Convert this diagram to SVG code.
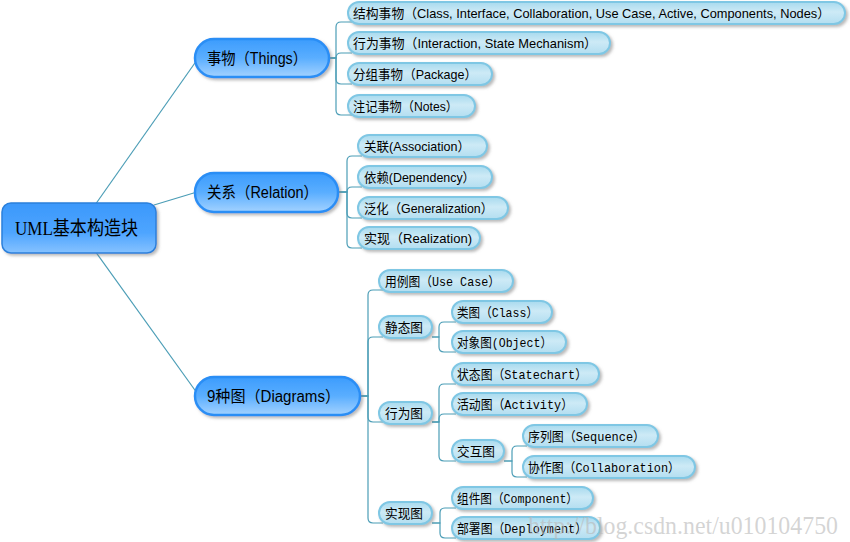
<svg xmlns="http://www.w3.org/2000/svg" width="850" height="542" viewBox="0 0 850 542">
<defs>
<linearGradient id="gRoot" x1="0" y1="0" x2="0" y2="1">
<stop offset="0" stop-color="#3b98fb"/>
<stop offset="0.6" stop-color="#4ea5ff"/>
<stop offset="1" stop-color="#86c2ff"/>
</linearGradient>
<linearGradient id="gL1" x1="0" y1="0" x2="0" y2="1">
<stop offset="0" stop-color="#3c9cfd"/>
<stop offset="0.5" stop-color="#5aaeff"/>
<stop offset="1" stop-color="#a3d2ff"/>
</linearGradient>
<linearGradient id="gL2" x1="0" y1="0" x2="0" y2="1">
<stop offset="0" stop-color="#a8daee"/>
<stop offset="0.45" stop-color="#cdeaf6"/>
<stop offset="1" stop-color="#b3def0"/>
</linearGradient>
<filter id="sh" x="-10%" y="-30%" width="125%" height="170%">
<feGaussianBlur in="SourceAlpha" stdDeviation="1.4"/>
<feOffset dx="2" dy="2" result="b"/>
<feFlood flood-color="#808080" flood-opacity="0.55"/>
<feComposite in2="b" operator="in"/>
<feMerge><feMergeNode/><feMergeNode in="SourceGraphic"/></feMerge>
</filter>
</defs>
<style>
.root{fill:url(#gRoot);stroke:#2a80dc;stroke-width:1.5;filter:url(#sh)}
.l1{fill:url(#gL1);stroke:#2b8ef5;stroke-width:2.5;filter:url(#sh)}
.l2{fill:url(#gL2);stroke:#7fc7e4;stroke-width:2;filter:url(#sh)}
.c{fill:none;stroke:#4b9db6;stroke-width:1.2}
text{fill:#000}
.tr{font-family:"Liberation Serif","Noto Sans CJK SC",serif;font-size:19px}
.t1{font-family:"Liberation Sans","Noto Sans CJK SC",sans-serif;font-size:16px}
.ts{font-family:"Liberation Sans","Noto Sans CJK SC",sans-serif;font-size:13px}
.tm{font-family:"Liberation Mono","Noto Sans CJK SC",monospace;font-size:13px}
.wm{font-family:"Liberation Serif","Noto Sans CJK SC",serif;font-size:26px;fill:#b8b8b8;fill-opacity:0.6}
</style>

<g id="connectors">
<path class="c" d="M95,205 L197,60"/>
<path class="c" d="M154,205 L197,192"/>
<path class="c" d="M95,251 L197,393"/>
<!-- Things -->
<path class="c" d="M329,58 H336 V27 Q336,22 341,22 H352"/>
<path class="c" d="M329,58 H336 V58 Q336,53 341,53 H352"/>
<path class="c" d="M329,58 H336 V79 Q336,84 341,84 H352"/>
<path class="c" d="M329,58 H336 V110 Q336,115 341,115 H352"/>
<!-- Relation -->
<path class="c" d="M338,192 H347 V161 Q347,156 352,156 H362"/>
<path class="c" d="M338,192 H347 V192 Q347,187 352,187 H362"/>
<path class="c" d="M338,192 H347 V213 Q347,218 352,218 H362"/>
<path class="c" d="M338,192 H347 V243 Q347,248 352,248 H362"/>
<!-- Diagrams -->
<path class="c" d="M360,396 H368 V295 Q368,290 373,290 H383"/>
<path class="c" d="M360,396 H368 V342 Q368,337 373,337 H383"/>
<path class="c" d="M360,396 H368 V417 Q368,422 373,422 H383"/>
<path class="c" d="M360,396 H368 V518 Q368,523 373,523 H383"/>
<!-- static -->
<path class="c" d="M432,337 H439 V327 Q439,322 444,322 H456"/>
<path class="c" d="M432,337 H439 V347 Q439,352 444,352 H456"/>
<!-- behavior -->
<path class="c" d="M432,422 H439 V389 Q439,384 444,384 H456"/>
<path class="c" d="M432,422 H439 V419 Q439,414 444,414 H456"/>
<path class="c" d="M432,422 H439 V456 Q439,461 444,461 H456"/>
<!-- interaction -->
<path class="c" d="M504,461 H512 V451 Q512,446 517,446 H527"/>
<path class="c" d="M504,461 H512 V472 Q512,477 517,477 H527"/>
<!-- realization -->
<path class="c" d="M432,523 H440 V513 Q440,508 445,508 H456"/>
<path class="c" d="M432,523 H440 V533 Q440,538 445,538 H456"/>
</g>

<g id="root">
<rect class="root" x="2" y="203" width="154" height="50" rx="9"/>
<text class="tr" x="15" y="235" textLength="123" lengthAdjust="spacingAndGlyphs">UML基本构造块</text>
</g>

<g id="things">
<rect class="l1" x="195" y="39" width="134" height="38" rx="19"/>
<text class="t1" x="207" y="64" textLength="100" lengthAdjust="spacingAndGlyphs">事物（Things）</text>
</g>
<g id="relation">
<rect class="l1" x="195" y="173" width="143" height="39" rx="19"/>
<text class="t1" x="207" y="198" textLength="111" lengthAdjust="spacingAndGlyphs">关系（Relation）</text>
</g>
<g id="diagrams">
<rect class="l1" x="195" y="377" width="165" height="38" rx="19"/>
<text class="t1" x="207" y="402" textLength="133" lengthAdjust="spacingAndGlyphs">9种图（Diagrams）</text>
</g>

<g id="structural">
<rect class="l2" x="348" y="2" width="497" height="22" rx="11"/>
<text class="ts" x="353" y="18" textLength="477" lengthAdjust="spacingAndGlyphs">结构事物（Class, Interface, Collaboration, Use Case, Active, Components, Nodes）</text>
</g>
<g id="behavioral">
<rect class="l2" x="348" y="32" width="262" height="22" rx="11"/>
<text class="ts" x="353" y="48" textLength="244" lengthAdjust="spacingAndGlyphs">行为事物（Interaction, State Mechanism）</text>
</g>
<g id="grouping">
<rect class="l2" x="348" y="63" width="144" height="22" rx="11"/>
<text class="ts" x="353" y="79" textLength="124" lengthAdjust="spacingAndGlyphs">分组事物（Package）</text>
</g>
<g id="annotational">
<rect class="l2" x="348" y="95" width="127" height="22" rx="11"/>
<text class="ts" x="353" y="111" textLength="105" lengthAdjust="spacingAndGlyphs">注记事物（Notes）</text>
</g>

<g id="association">
<rect class="l2" x="358" y="135" width="129" height="22" rx="11"/>
<text class="ts" x="364" y="151" textLength="106" lengthAdjust="spacingAndGlyphs">关联(Association）</text>
</g>
<g id="dependency">
<rect class="l2" x="358" y="166" width="134" height="22" rx="11"/>
<text class="ts" x="364" y="182" textLength="111" lengthAdjust="spacingAndGlyphs">依赖(Dependency）</text>
</g>
<g id="generalization">
<rect class="l2" x="358" y="197" width="150" height="22" rx="11"/>
<text class="ts" x="364" y="213" textLength="129" lengthAdjust="spacingAndGlyphs">泛化（Generalization）</text>
</g>
<g id="realization">
<rect class="l2" x="358" y="227" width="122" height="22" rx="11"/>
<text class="ts" x="364" y="243" textLength="108" lengthAdjust="spacingAndGlyphs">实现（Realization)</text>
</g>

<g id="usecase">
<rect class="l2" x="379" y="270" width="134" height="22" rx="11"/>
<text class="tm" x="385" y="286" textLength="115" lengthAdjust="spacingAndGlyphs">用例图（Use Case）</text>
</g>
<g id="static">
<rect class="l2" x="379" y="316" width="53" height="22" rx="11"/>
<text class="tm" x="385" y="332" textLength="38" lengthAdjust="spacingAndGlyphs">静态图</text>
</g>
<g id="class">
<rect class="l2" x="452" y="301" width="100" height="22" rx="11"/>
<text class="tm" x="457" y="317" textLength="81" lengthAdjust="spacingAndGlyphs">类图（Class）</text>
</g>
<g id="object">
<rect class="l2" x="452" y="331" width="114" height="22" rx="11"/>
<text class="tm" x="457" y="347" textLength="95" lengthAdjust="spacingAndGlyphs">对象图(Object）</text>
</g>
<g id="behavior">
<rect class="l2" x="379" y="402" width="53" height="22" rx="11"/>
<text class="tm" x="385" y="418" textLength="38" lengthAdjust="spacingAndGlyphs">行为图</text>
</g>
<g id="statechart">
<rect class="l2" x="452" y="363" width="147" height="22" rx="11"/>
<text class="tm" x="457" y="379" textLength="130" lengthAdjust="spacingAndGlyphs">状态图（Statechart）</text>
</g>
<g id="activity">
<rect class="l2" x="452" y="393" width="135" height="22" rx="11"/>
<text class="tm" x="457" y="409" textLength="116" lengthAdjust="spacingAndGlyphs">活动图（Activity）</text>
</g>
<g id="interaction">
<rect class="l2" x="452" y="440" width="52" height="22" rx="11"/>
<text class="tm" x="457" y="456" textLength="38" lengthAdjust="spacingAndGlyphs">交互图</text>
</g>
<g id="sequence">
<rect class="l2" x="523" y="425" width="135" height="22" rx="11"/>
<text class="tm" x="528" y="441" textLength="117" lengthAdjust="spacingAndGlyphs">序列图（Sequence）</text>
</g>
<g id="collaboration">
<rect class="l2" x="523" y="456" width="172" height="22" rx="11"/>
<text class="tm" x="528" y="472" textLength="152" lengthAdjust="spacingAndGlyphs">协作图（Collaboration）</text>
</g>
<g id="implementation">
<rect class="l2" x="379" y="502" width="53" height="22" rx="11"/>
<text class="tm" x="385" y="518" textLength="38" lengthAdjust="spacingAndGlyphs">实现图</text>
</g>
<g id="component">
<rect class="l2" x="452" y="487" width="141" height="22" rx="11"/>
<text class="tm" x="457" y="503" textLength="121" lengthAdjust="spacingAndGlyphs">组件图（Component）</text>
</g>
<g id="deployment">
<rect class="l2" x="452" y="517" width="148" height="22" rx="11"/>
<text class="tm" x="457" y="533" textLength="130" lengthAdjust="spacingAndGlyphs">部署图（Deployment）</text>
</g>

<text class="wm" x="528" y="534" textLength="310" lengthAdjust="spacingAndGlyphs">http://blog.csdn.net/u010104750</text>
</svg>
